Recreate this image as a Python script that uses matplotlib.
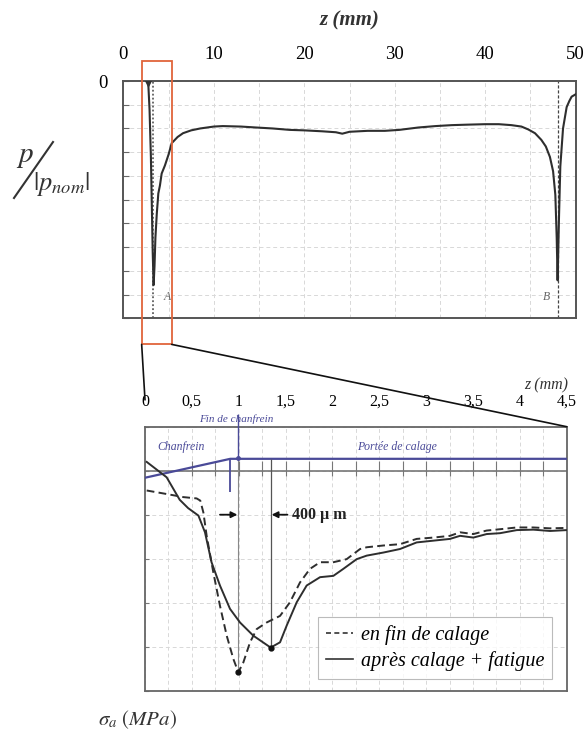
import matplotlib
matplotlib.use('Agg')
import matplotlib.pyplot as plt
import numpy as np
from matplotlib.patches import Rectangle, ConnectionPatch
from matplotlib.lines import Line2D

plt.rcParams['font.family'] = ['Liberation Serif', 'DejaVu Serif']
plt.rcParams['mathtext.fontset'] = 'stix'

# ---------------- data ----------------
# top chart: contact pressure along the fit
top_z = [2.76, 2.9, 3.05, 3.15, 3.25, 3.35, 3.45, 3.55, 3.7, 3.87, 4.05, 4.24, 4.6,
         5.0, 5.35, 6.0, 6.6, 7.5, 8.5, 10, 11, 13, 14.7, 16.5, 18.4, 20, 22, 23.5,
         24.2, 25, 27, 28.9, 30.5, 32.6, 34.5, 36.3, 38, 40, 41.5, 42.9, 44, 44.75,
         45.5, 46.2, 46.7, 47.15, 47.5, 47.75, 47.9, 48.0, 48.15, 48.3, 48.6, 49.0,
         49.3, 49.55, 50]
top_p = [-0.05, -0.6, -1.6, -2.6, -3.6, -4.3, -3.9, -3.3, -2.8, -2.37, -2.2, -1.95, -1.78,
         -1.55, -1.31, -1.18, -1.10, -1.04, -1.0, -0.96, -0.95, -0.96, -0.98, -1.0, -1.03,
         -1.04, -1.06, -1.08, -1.11, -1.07, -1.05, -1.05, -1.03, -0.98, -0.95, -0.93, -0.92,
         -0.91, -0.91, -0.93, -0.96, -1.02, -1.1, -1.24, -1.38, -1.6, -1.9, -2.4, -3.3,
         -4.2, -2.9, -1.8, -1.0, -0.55, -0.42, -0.33, -0.28]
top_xticks = [0, 10, 20, 30, 40, 50]
top_xminor = [5, 15, 25, 35, 45]
point_A_z = 3.3
point_B_z = 48.0
zoom_z = [2.03, 5.35]

# bottom chart: axial stress near the chamfer
z_fin = [0.018, 0.231, 0.409, 0.551, 0.590, 0.623, 0.658, 0.729, 0.800, 0.872, 0.943,
         0.996, 1.049, 1.121, 1.192, 1.298, 1.441, 1.547, 1.654, 1.761, 1.868, 2.010,
         2.152, 2.295, 2.366, 2.544, 2.721, 2.899, 3.077, 3.255, 3.362, 3.504, 3.646,
         3.789, 3.967, 4.144, 4.322, 4.5]
s_fin = [-0.45, -0.53, -0.60, -0.63, -0.68, -0.95, -1.48, -2.31, -3.07, -3.75, -4.28,
         -4.58, -4.36, -3.90, -3.60, -3.45, -3.30, -2.99, -2.54, -2.23, -2.08, -2.08,
         -2.01, -1.78, -1.74, -1.70, -1.67, -1.55, -1.52, -1.48, -1.40, -1.44, -1.36,
         -1.33, -1.29, -1.29, -1.31, -1.30]
z_fat = [0.018, 0.231, 0.37, 0.46, 0.57, 0.64, 0.71, 0.800, 0.907, 1.014, 1.156, 1.341,
         1.441, 1.512, 1.619, 1.725, 1.868, 2.010, 2.117, 2.259, 2.366, 2.544, 2.721,
         2.899, 3.077, 3.255, 3.362, 3.504, 3.646, 3.789, 3.967, 4.144, 4.322, 4.5]
s_fat = [0.20, -0.15, -0.66, -0.85, -1.02, -1.40, -2.08, -2.61, -3.14, -3.45, -3.75,
         -4.02, -3.90, -3.52, -2.99, -2.61, -2.42, -2.39, -2.23, -2.01, -1.93, -1.86,
         -1.78, -1.63, -1.59, -1.55, -1.48, -1.52, -1.44, -1.42, -1.35, -1.34, -1.37, -1.35]
bot_xticks = [0, 0.5, 1, 1.5, 2, 2.5, 3, 3.5, 4, 4.5]
bot_xlabels = ['0', '0,5', '1', '1,5', '2', '2,5', '3', '3,5', '4', '4,5']
chamfer_z = [0.0, 0.91, 4.5]
chamfer_y = [-0.16, 0.27, 0.27]
chamfer_end_z = 0.91
fin_chanfrein_z = 0.99
geom_ticks_z = [0.5, 0.75, 1.0, 1.25, 1.5, 1.75, 2.0, 2.25, 2.5, 2.75, 3.0, 3.25,
                3.5, 3.75, 4.0, 4.25]
label_fin = 'en fin de calage'
label_fat = 'après calage + fatigue'

# ---------------- layout ----------------
W, H = 585, 731
fig = plt.figure(figsize=(W / 100, H / 100), dpi=100)
fig.patch.set_facecolor('white')


def fx(px):
    return px / W


def fy(py):
    return 1 - py / H


ax1 = fig.add_axes([fx(123.3), fy(318.3), (575.7 - 123.3) / W, (318.3 - 81) / H])
ax2 = fig.add_axes([fx(145), fy(690.7), (566.7 - 145) / W, (690.7 - 426.7) / H])

grid_kw = dict(color='#d8d8d8', lw=0.7, ls=(0, (4, 3)))
blue = '#4a4a98'

# ---- top axes ----
ax1.set_xlim(0, 50)
ax1.set_ylim(-5, 0)
ax1.set_xticks(top_xticks)
ax1.set_xticks(top_xminor, minor=True)
ax1.set_xticklabels([str(t) for t in top_xticks])
yt = np.arange(-5, 0.01, 0.5)
ax1.set_yticks(yt)
ax1.set_yticklabels(['0' if abs(v) < 1e-9 else '' for v in yt])
ax1.grid(True, which='both', **grid_kw)
ax1.tick_params(axis='x', which='both', top=True, bottom=False, labeltop=True,
                labelbottom=False, length=0, pad=13, labelsize=13.5)
ax1.tick_params(axis='y', direction='in', length=4, color='#666', labelsize=13.5, pad=11)
for s in ax1.spines.values():
    s.set_color('#555')
    s.set_linewidth(1.4)

ax1.plot(top_z, top_p, color='#2e2e2e', lw=1.5, zorder=3)
ax1.plot(top_z[0], top_p[0], marker='v', ms=4, color='#333', zorder=4)
ax1.axvline(point_A_z, color='#444', lw=1.1, ls=(0, (1.2, 1.4)), zorder=2)
ax1.axvline(point_B_z, color='#444', lw=0.9, ls=(0, (2.5, 1.5)), zorder=2)
ax1.text(4.9, -4.56, 'A', fontsize=8.5, style='italic', color='#666', ha='center', va='center')
ax1.text(46.8, -4.56, 'B', fontsize=8.5, style='italic', color='#666', ha='center', va='center')

ax1.add_patch(Rectangle((zoom_z[0], -5.55), zoom_z[1] - zoom_z[0], 5.97, fill=False,
                        ec='#e0653a', lw=1.3, clip_on=False, zorder=5))

fig.text(fx(350), fy(20), 'z (mm)', fontsize=15, style='italic', fontweight='bold',
         ha='center', va='center', color='#333')

# y label p / |p_nom|
fig.text(fx(25), fy(157), r'$p$', fontsize=21, ha='center', va='center', color='#333')
fig.add_artist(Line2D([fx(14), fx(53)], [fy(198), fy(142)], color='#333', lw=1.5))
fig.text(fx(62), fy(184), r'$|p_{nom}|$', fontsize=19, ha='center', va='center', color='#333')

# ---- bottom axes ----
ax2.set_xlim(0, 4.5)
ax2.set_ylim(-5, 1)
ax2.set_xticks(bot_xticks)
ax2.set_xticklabels(bot_xlabels)
ax2.set_xticks(np.arange(0.25, 4.5, 0.5), minor=True)
ax2.set_yticks(np.arange(-5, 1.01, 1))
ax2.set_yticklabels([])
ax2.grid(True, which='both', **grid_kw)
ax2.tick_params(axis='x', which='both', top=True, bottom=False, labeltop=True,
                labelbottom=False, length=0, pad=12, labelsize=11.5)
ax2.tick_params(axis='y', direction='in', length=3, color='#777')
for s in ax2.spines.values():
    s.set_color('#666')
    s.set_linewidth(1.3)

ax2.axhline(0, color='#777', lw=1.2, zorder=2)
ax2.vlines(geom_ticks_z, -0.12, 0.22, color='#777', lw=0.8, zorder=2)

# chamfer geometry
ax2.plot(chamfer_z, chamfer_y, color=blue, lw=1.6, zorder=3)
ax2.vlines(chamfer_end_z, -0.48, 0.27, color=blue, lw=1.3, zorder=3)
ax2.vlines(fin_chanfrein_z, 0.27, 1.3, color=blue, lw=1.0, zorder=3, clip_on=False)
ax2.plot([fin_chanfrein_z], [0.3], marker='o', ms=2.5, color=blue, zorder=4)

# stress curves
ax2.plot(z_fin, s_fin, color='#2e2e2e', lw=1.4, ls=(0, (4, 2.2)), zorder=4)
ax2.plot(z_fat, s_fat, color='#2e2e2e', lw=1.4, zorder=4)
i_fin = int(np.argmin(s_fin))
i_fat = int(np.argmin(s_fat))
ax2.plot([z_fin[i_fin]], [s_fin[i_fin]], 'o', ms=3.5, color='#111', zorder=5)
ax2.plot([z_fat[i_fat]], [s_fat[i_fat]], 'o', ms=3.5, color='#111', zorder=5)
ax2.vlines(z_fin[i_fin], s_fin[i_fin], 0.27, color='#888', lw=0.8, zorder=3)
ax2.vlines(z_fat[i_fat], s_fat[i_fat], 0.27, color='#555', lw=0.9, zorder=3)

# 400 µm arrows
ax2.annotate('', xy=(z_fin[i_fin] - 0.01, -1.0), xytext=(0.80, -1.0),
             arrowprops=dict(arrowstyle='-|>', color='#111', lw=1.3, mutation_scale=9,
                             shrinkA=0, shrinkB=0))
ax2.annotate('', xy=(z_fat[i_fat] + 0.01, -1.0), xytext=(1.52, -1.0),
             arrowprops=dict(arrowstyle='-|>', color='#111', lw=1.3, mutation_scale=9,
                             shrinkA=0, shrinkB=0))
ax2.text(1.57, -1.0, '400 µ m', fontsize=11.5, fontweight='bold', ha='left', va='center',
         color='#222')

# blue annotations
fig.text(fx(236), fy(419), 'Fin de chanfrein', fontsize=8, style='italic', color=blue,
         ha='center', va='center')
fig.text(fx(181), fy(447), 'Chanfrein', fontsize=8.5, style='italic', color=blue,
         ha='center', va='center')
fig.text(fx(397), fy(447), 'Portée de calage', fontsize=8.5, style='italic', color=blue,
         ha='center', va='center')

fig.text(fx(546), fy(385), 'z (mm)', fontsize=11.5, style='italic', ha='center',
         va='center', color='#333')

# legend
handles = [Line2D([], [], color='#333', lw=1.2, ls=(0, (3, 2))),
           Line2D([], [], color='#333', lw=1.2)]
leg = ax2.legend(handles, [label_fin, label_fat], loc='lower right',
                 bbox_to_anchor=(fx(552), fy(679)), bbox_transform=fig.transFigure,
                 borderaxespad=0, frameon=True, fancybox=False, handlelength=1.3,
                 handletextpad=0.4, labelspacing=0.3, borderpad=0.4,
                 prop=dict(family='Liberation Serif', style='italic', size=14.5))
leg.get_frame().set_edgecolor('#aaaaaa')
leg.get_frame().set_linewidth(0.8)
leg.set_zorder(6)

fig.text(fx(138), fy(720), r'$\sigma_a\ (MPa)$', fontsize=15, ha='center', va='center',
         color='#333')

# zoom connectors
for za, zb, yb in [(zoom_z[0], 0.0, 1.61), (zoom_z[1], 4.5, 1.0)]:
    cp = ConnectionPatch(xyA=(za, -5.55), coordsA=ax1.transData,
                         xyB=(zb, yb), coordsB=ax2.transData,
                         color='#111', lw=1.2)
    fig.add_artist(cp)

fig.savefig('out.png', dpi=100, facecolor='white')
